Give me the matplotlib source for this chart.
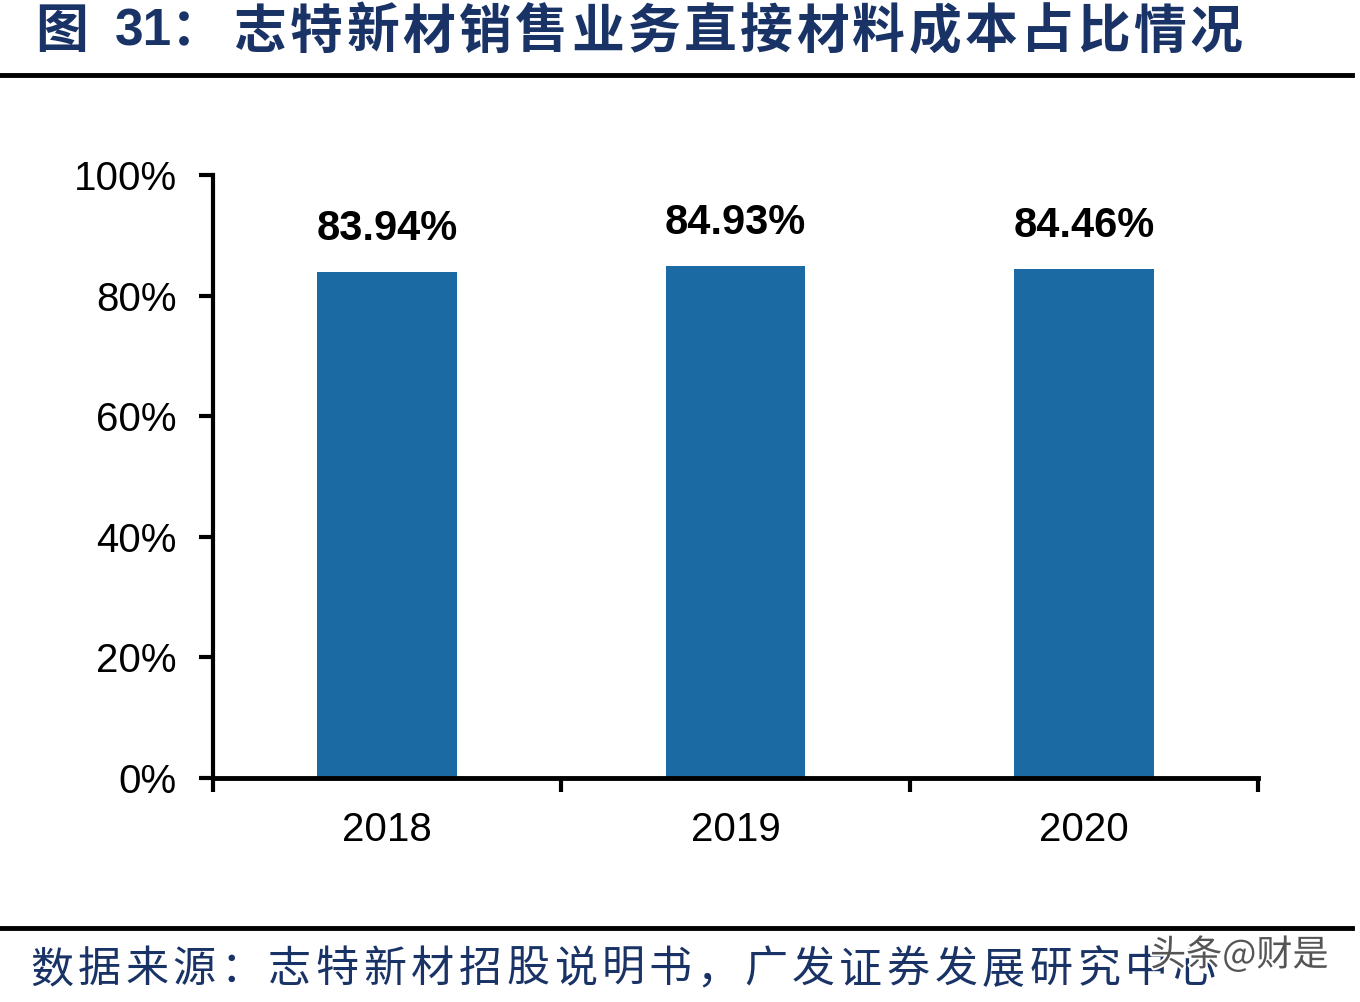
import matplotlib
matplotlib.use('Agg')
import matplotlib.pyplot as plt
import matplotlib.patheffects as pe
import numpy as np

plt.rcParams['font.family'] = ['Liberation Sans', 'Noto Sans CJK SC', 'DejaVu Sans']

# Data
years = ['2018', '2019', '2020']
ratio = [83.94, 84.93, 84.46]
ytick_vals = [0, 20, 40, 60, 80, 100]
ytick_labels = ['0%', '20%', '40%', '60%', '80%', '100%']

title_head = '图'
title_num = '31：'
title_body = '志特新材销售业务直接材料成本占比情况'
source = '数据来源：志特新材招股说明书，广发证券发展研究中心'
mark = '头条@财是'

bar_color = '#1C6AA4'
navy = '#1A3366'
cjk = ['Noto Sans CJK SC', 'DejaVu Sans']

W, H = 1360, 1002
fig = plt.figure(figsize=(13.6, 10.02), dpi=100)
fig.patch.set_facecolor('white')


def spaced(txt, x0, y, step, **kw):
    # put characters one by one, the original has wide letter spacing
    for i, ch in enumerate(txt):
        fig.text((x0 + i*step)/W, 1-y/H, ch, ha='left', va='center', **kw)


ax = fig.add_axes([213/W, 1-778/H, (1258-213)/W, (778-175)/H])
x = np.arange(len(years))
bars = ax.bar(x, ratio, width=0.4, color=bar_color, zorder=2)

for xi, v in zip(x, ratio):
    ax.text(xi, v + 3.8, '%.2f%%' % v, ha='center', va='bottom',
            fontsize=30, fontweight='bold', color='black',
            family=['Liberation Sans', 'DejaVu Sans'])

ax.set_xlim(-0.5, 2.5)
ax.set_ylim(0, 100)
ax.set_yticks(ytick_vals)
ax.set_yticklabels(ytick_labels, fontsize=29)
ax.set_xticks(x)
ax.set_xticklabels(years, fontsize=29)
ax.tick_params(axis='x', length=0, pad=24)
ax.set_xticks([-0.5, 0.5, 1.5, 2.5], minor=True)
ax.tick_params(axis='x', which='minor', length=10, width=3, direction='out')
ax.tick_params(axis='y', length=10, width=3, direction='out', pad=16)

for s in ['top', 'right']:
    ax.spines[s].set_visible(False)
ax.spines['left'].set_linewidth(3)
ax.spines['bottom'].set_linewidth(3.5)

# title and separator lines
tkw = dict(fontsize=38, fontweight='bold', color=navy, family=cjk)
fig.text(35/W, 1-32/H, title_head, ha='left', va='center', **tkw)
fig.text(115/W, 1-32/H, title_num, ha='left', va='center',
         fontsize=37, fontweight='bold', color=navy,
         family=['Liberation Sans', 'Noto Sans CJK SC'])
spaced(title_body, 234, 32, 56.2, **tkw)

fig.add_artist(plt.Line2D([0, 1352/W], [1-75/H, 1-75/H],
                          color='black', linewidth=3.5))
fig.add_artist(plt.Line2D([0, 1352/W], [1-928/H, 1-928/H],
                          color='black', linewidth=3.5))

spaced(source, 30, 970, 47.6, fontsize=31, color=navy, family=cjk)
fig.text(1150/W, 1-955/H, mark, fontsize=26, color='#555555',
         ha='left', va='center', family=cjk,
         path_effects=[pe.withStroke(linewidth=3, foreground='white')])

fig.savefig('out.png', dpi=100, facecolor='white')
